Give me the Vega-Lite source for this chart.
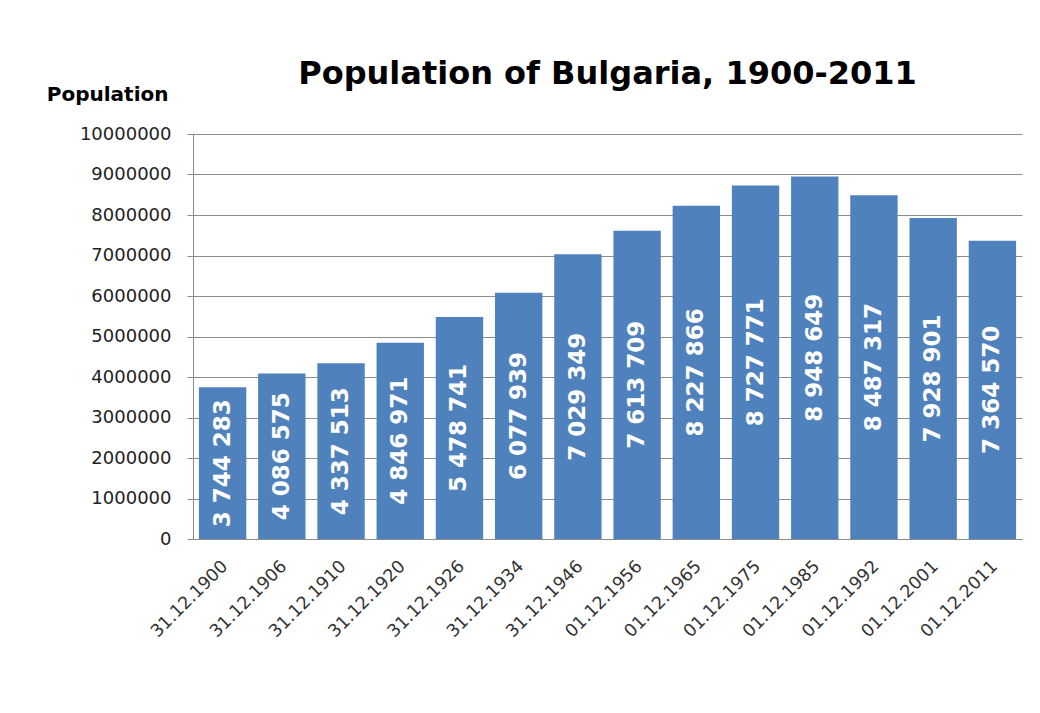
{
  "$schema": "https://vega.github.io/schema/vega-lite/v6.json",
  "autosize": {"type": "none"},
  "padding": {"left": 193, "top": 134, "right": 18, "bottom": 174},
  "width": 829,
  "height": 405,
  "background": "white",
  "config": {
    "view": {"stroke": null},
    "locale": {"number": {"decimal": ".", "thousands": " ", "grouping": [3], "currency": ["", ""]}}
  },
  "title": {
    "text": "Population of Bulgaria, 1900-2011",
    "font": "DejaVu Sans",
    "fontSize": 32,
    "fontWeight": "bold",
    "color": "#000000",
    "anchor": "middle",
    "frame": "group",
    "baseline": "alphabetic",
    "offset": -32
  },
  "data": {
    "values": [
      {"date": "31.12.1900", "population": 3744283},
      {"date": "31.12.1906", "population": 4086575},
      {"date": "31.12.1910", "population": 4337513},
      {"date": "31.12.1920", "population": 4846971},
      {"date": "31.12.1926", "population": 5478741},
      {"date": "31.12.1934", "population": 6077939},
      {"date": "31.12.1946", "population": 7029349},
      {"date": "01.12.1956", "population": 7613709},
      {"date": "01.12.1965", "population": 8227866},
      {"date": "01.12.1975", "population": 8727771},
      {"date": "01.12.1985", "population": 8948649},
      {"date": "01.12.1992", "population": 8487317},
      {"date": "01.12.2001", "population": 7928901},
      {"date": "01.12.2011", "population": 7364570}
    ]
  },
  "encoding": {
    "x": {
      "field": "date",
      "type": "ordinal",
      "sort": null,
      "scale": {"paddingInner": 0.2, "paddingOuter": 0.1},
      "axis": {
        "title": null,
        "labelAngle": -45,
        "labelAlign": "right",
        "labelBaseline": "top",
        "labelFont": "DejaVu Sans",
        "labelFontSize": 17.5,
        "labelColor": "#333333",
        "labelPadding": 18,
        "labelOffset": -4,
        "ticks": false,
        "domainColor": "#8c8c8c",
        "grid": false
      }
    }
  },
  "layer": [
    {
      "mark": {"type": "bar", "color": "#4f81bd"},
      "encoding": {
        "y": {
          "field": "population",
          "type": "quantitative",
          "scale": {"domain": [0, 10000000], "nice": false},
          "axis": {
            "values": [0, 1000000, 2000000, 3000000, 4000000, 5000000, 6000000, 7000000, 8000000, 9000000, 10000000],
            "format": "d",
            "labelFont": "DejaVu Sans",
            "labelFontSize": 18,
            "labelColor": "#222222",
            "labelPadding": 16,
            "tickSize": 6,
            "tickColor": "#8c8c8c",
            "domainColor": "#8c8c8c",
            "gridColor": "#8c8c8c",
            "gridWidth": 1,
            "title": "Population",
            "titleAngle": 0,
            "titleAlign": "right",
            "titleBaseline": "alphabetic",
            "titleX": -25,
            "titleY": -34,
            "titleFont": "DejaVu Sans",
            "titleFontSize": 20,
            "titleFontWeight": "bold",
            "titleColor": "#000000"
          }
        }
      }
    },
    {
      "mark": {
        "type": "text",
        "angle": 270,
        "align": "center",
        "baseline": "middle",
        "font": "DejaVu Sans",
        "fontSize": 23,
        "fontWeight": "bold",
        "color": "#ffffff"
      },
      "encoding": {
        "y": {
          "field": "population",
          "type": "quantitative",
          "scale": {"domain": [0, 20000000], "nice": false},
          "axis": null
        },
        "text": {"field": "population", "type": "quantitative", "format": ",d"}
      }
    }
  ],
  "resolve": {"scale": {"y": "independent"}}
}
